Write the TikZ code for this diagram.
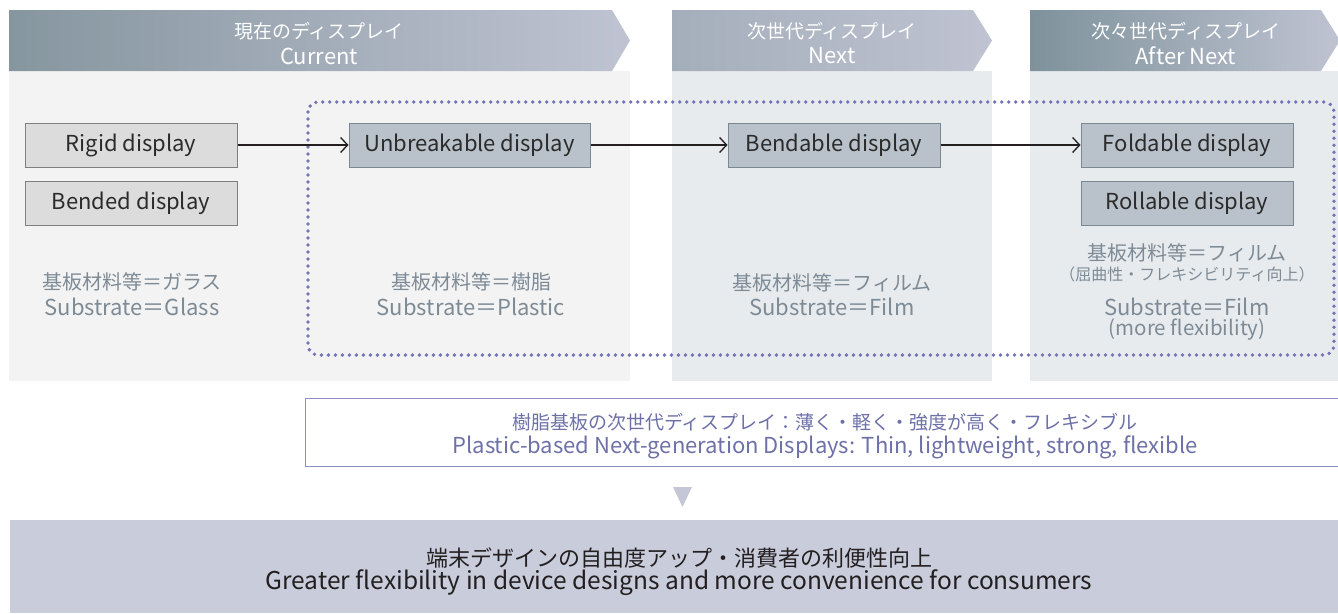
\documentclass[tikz,border=0pt]{standalone}
\usepackage{fontspec}
\setmainfont{Noto Sans CJK JP}
\usetikzlibrary{arrows.meta}
\definecolor{hA}{HTML}{86969F}
\definecolor{hB}{HTML}{BFC3D2}
\definecolor{hC}{HTML}{A4AEBA}
\definecolor{hD}{HTML}{7E929B}
\definecolor{panelA}{HTML}{F3F3F3}
\definecolor{panelB}{HTML}{E8EBEE}
\definecolor{gboxfill}{HTML}{DCDCDC}
\definecolor{gboxdraw}{HTML}{7F7F7F}
\definecolor{bboxfill}{HTML}{B9C2CA}
\definecolor{bboxdraw}{HTML}{7B8891}
\definecolor{boxtext}{HTML}{2B2B2B}
\definecolor{subtext}{HTML}{7D8B96}
\definecolor{dotcol}{HTML}{7474B4}
\definecolor{wbdraw}{HTML}{8A8FC0}
\definecolor{wbtext}{HTML}{6E71A8}
\definecolor{tricol}{HTML}{C5C7D6}
\definecolor{bandcol}{HTML}{C9CCDB}
\definecolor{bandtext}{HTML}{231F20}
\definecolor{linecol}{HTML}{231F20}
\begin{document}
\begin{tikzpicture}[x=1pt,y=-1pt]
\tikzset{
  hdrtext/.style={text=white, inner sep=0pt},
  gbox/.style={draw=gboxdraw, fill=gboxfill, line width=1pt, minimum width=212pt, minimum height=44pt, inner sep=0pt, text=boxtext, font=\fontsize{22}{24}\selectfont},
  bbox/.style={gbox, draw=bboxdraw, fill=bboxfill},
  subtxt/.style={text=subtext, inner sep=0pt},
  wbtxt/.style={text=wbtext, inner sep=0pt},
  bandtxt/.style={text=bandtext, inner sep=0pt},
  link/.style={line width=1.3pt, draw=linecol, -{Straight Barb[length=7pt,width=15pt,line width=1.3pt]}},
  jpH/.style={font=\fontsize{19}{22}\selectfont},
  enH/.style={font=\fontsize{22}{24}\selectfont},
  jpS/.style={font=\fontsize{20}{22}\selectfont},
  enS/.style={font=\fontsize{22}{24}\selectfont},
  jpT/.style={font=\fontsize{16}{18}\selectfont},
  enT/.style={font=\fontsize{20.5}{22}\selectfont},
  jpB/.style={font=\fontsize{22}{24}\selectfont},
  enB/.style={font=\fontsize{24.5}{26}\selectfont},
}
\useasboundingbox (0,0) rectangle (1338,613);
% panels
\fill[panelA] (9,71) rectangle (630,381);
\fill[panelB] (672,71) rectangle (992,381);
\fill[panelB] (1030,71) rectangle (1338,381);
% headers
\shade[left color=hA, right color=hB] (9,10) -- (612,10) -- (630,40.5) -- (612,71) -- (9,71) -- cycle;
\shade[left color=hC, right color=hB] (672,10) -- (973,10) -- (992,40.5) -- (973,71) -- (672,71) -- cycle;
\shade[left color=hD, right color=hB] (1030,10) -- (1321,10) -- (1340,40.5) -- (1321,71) -- (1030,71) -- cycle;
\node[hdrtext,jpH] (h1a) at (319,31) {現在のディスプレイ};
\node[hdrtext,enH] (h1b) at (319,56) {Current};
\node[hdrtext,jpH] (h2a) at (832,31) {次世代ディスプレイ};
\node[hdrtext,enH] (h2b) at (832,56) {Next};
\node[hdrtext,jpH] (h3a) at (1186,31) {次々世代ディスプレイ};
\node[hdrtext,enH] (h3b) at (1186,56) {After Next};
% dotted frame
\draw[dotcol, line width=3.8pt, line cap=round, dash pattern=on 0pt off 7pt, rounded corners=10pt] (308,102) rectangle (1334,355);
% boxes
\node[gbox] (rigid) at (131,145) {Rigid display};
\node[gbox] (bended) at (131,203) {Bended display};
\node[bbox, minimum width=241pt] (unbreak) at (469.5,145) {Unbreakable display};
\node[bbox] (bend) at (834,145) {Bendable display};
\node[bbox] (fold) at (1187,145) {Foldable display};
\node[bbox] (roll) at (1187,203) {Rollable display};
\draw[link] (rigid) -- (unbreak);
\draw[link] (unbreak) -- (bend);
\draw[link] (bend) -- (fold);
% substrate texts
\node[subtxt,jpS] (s1a) at (132,282) {基板材料等＝ガラス};
\node[subtxt,enS] (s1b) at (132,307) {Substrate＝Glass};
\node[subtxt,jpS] (s2a) at (471,282) {基板材料等＝樹脂};
\node[subtxt,enS] (s2b) at (471,307) {Substrate＝Plastic};
\node[subtxt,jpS] (s3a) at (832,283) {基板材料等＝フィルム};
\node[subtxt,enS] (s3b) at (832,307) {Substrate＝Film};
\node[subtxt,jpS] (s4a) at (1187,253) {基板材料等＝フィルム};
\node[subtxt,jpT] (s4b) at (1187,274) {（屈曲性・フレキシビリティ向上）};
\node[subtxt,enS] (s4c) at (1187,307) {Substrate＝Film};
\node[subtxt,enT] (s4d) at (1187,330) {(more flexibility)};
% white box
\fill[white] (305,398) rectangle (1338,466);
\draw[wbdraw, line width=1pt] (1338,398) -- (305,398) -- (305,466) -- (1338,466);
\node[wbtxt,jpH] (w1) at (825,422) {樹脂基板の次世代ディスプレイ：薄く・軽く・強度が高く・フレキシブル};
\node[wbtxt,enH] (w2) at (825,447) {Plastic-based Next-generation Displays: Thin, lightweight, strong, flexible};
% triangle
\fill[tricol] (673,487) -- (692,487) -- (682.5,507) -- cycle;
% band
\fill[bandcol] (10,520) rectangle (1338,613);
\node[bandtxt,jpB] (b1) at (679,558) {端末デザインの自由度アップ・消費者の利便性向上};
\node[bandtxt,enB] (b2) at (679,583) {Greater flexibility in device designs and more convenience for consumers};
\end{tikzpicture}
\end{document}
